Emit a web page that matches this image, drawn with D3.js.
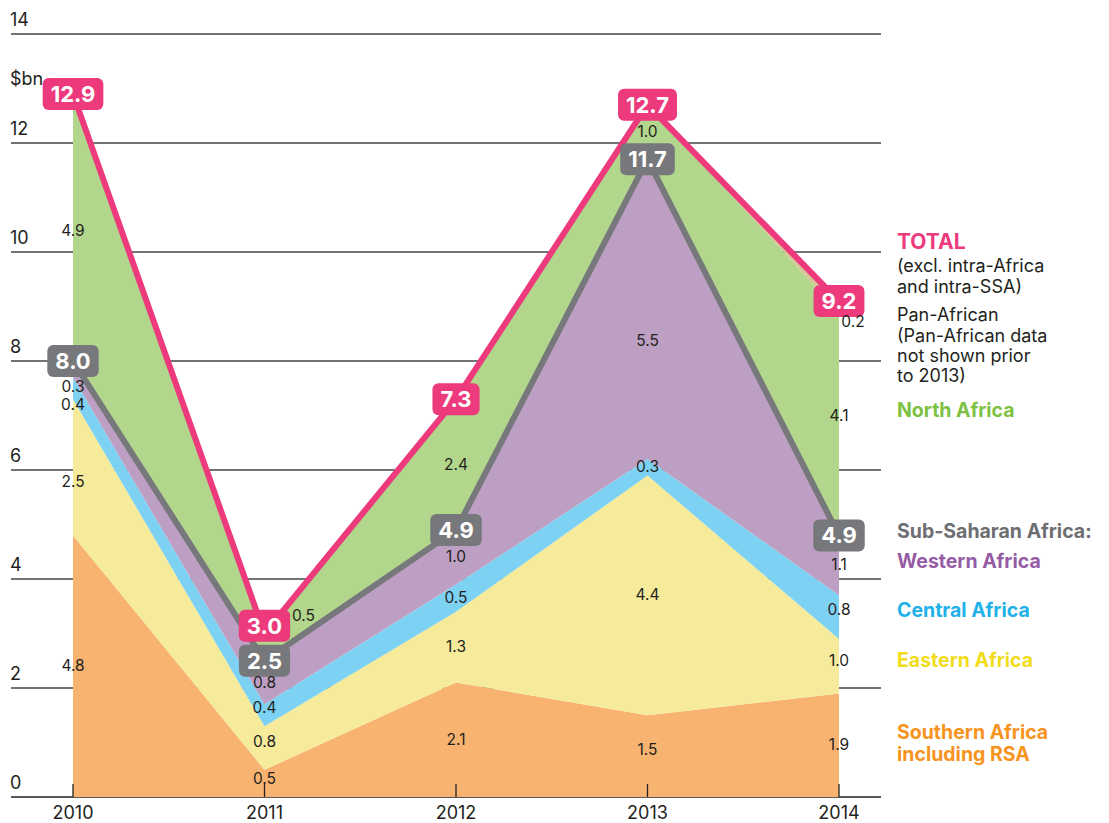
<!DOCTYPE html>
<html>
<head>
<meta charset="utf-8">
<script src="https://cdn.jsdelivr.net/npm/d3@7/dist/d3.min.js"></script>
<style>
  html, body { margin: 0; padding: 0; background: #fff; }
  svg { display: block; font-family: Inter, "Noto Sans", sans-serif; }
</style>
</head>
<body>
<svg id="chart" width="1109" height="823"></svg>
<script>
// ---- data ----
const years = [2010, 2011, 2012, 2013, 2014];
const southern = [4.8, 0.5, 2.1, 1.5, 1.9];
const eastern = [2.5, 0.8, 1.3, 4.4, 1.0];
const central = [0.4, 0.4, 0.5, 0.3, 0.8];
const western = [0.3, 0.8, 1.0, 5.5, 1.1];
const northAfrica = [4.9, 0.5, 2.4, 1.0, 4.1];
const panAfrican = [0, 0, 0, 0, 0.2];
const ssaTotals = [8.0, 2.5, 4.9, 11.7, 4.9];
const totals = [12.9, 3.0, 7.3, 12.7, 9.2];
const yTicks = [0, 2, 4, 6, 8, 10, 12, 14];
const seriesKeys = ["southern", "eastern", "central", "western", "north", "pan"];
const seriesValues = [southern, eastern, central, western, northAfrica, panAfrican];

// ---- styles ----
const areaColors = {
  southern: "#f8b370", eastern: "#f5eb9a", central: "#7dd1f3",
  western: "#bd9fc3", north: "#b2d68c", pan: "#d8c596"
};
const pink = "#ec3a7d", gray = "#77787b";

const svg = d3.select("#chart");
const x = d3.scalePoint().domain(years).range([73, 839]);
const y = d3.scaleLinear().domain([0, 14]).range([797, 34]);

const table = years.map((yr, i) => {
  const row = { year: yr };
  seriesKeys.forEach((k, j) => row[k] = seriesValues[j][i]);
  return row;
});
const stacked = d3.stack().keys(seriesKeys)(table);

// gridlines
svg.append("g").selectAll("line").data(yTicks).join("line")
  .attr("x1", 11).attr("x2", 881)
  .attr("y1", d => y(d)).attr("y2", d => y(d))
  .attr("stroke", d => d === 0 ? "#222" : "#444")
  .attr("stroke-width", d => d === 0 ? 1.6 : 1.3);

svg.append("g").selectAll("text").data(yTicks).join("text")
  .attr("x", 10).attr("y", d => y(d) - 8)
  .attr("font-size", 18).attr("fill", "#231f20")
  .text(d => d);
svg.append("text").attr("x", 10).attr("y", 85).attr("font-size", 18)
  .attr("fill", "#231f20").text("$bn");

// areas
const area = d3.area().x(d => x(d.data.year)).y0(d => y(d[0])).y1(d => y(d[1]));
svg.append("g").selectAll("path").data(stacked).join("path")
  .attr("d", area).attr("fill", d => areaColors[d.key]);

// year ticks & labels
svg.append("g").selectAll("line").data(years).join("line")
  .attr("x1", d => x(d)).attr("x2", d => x(d))
  .attr("y1", 797).attr("y2", 784)
  .attr("stroke", "#222").attr("stroke-width", 1.3);
svg.append("g").selectAll("text").data(years).join("text")
  .attr("x", d => x(d)).attr("y", 819).attr("text-anchor", "middle")
  .attr("font-size", 18).attr("fill", "#231f20").text(d => d);

// lines (stack tops)
const ssaLayer = stacked[3];
const totLayer = stacked[5];
const line = d3.line().x(d => x(d.data.year)).y(d => y(d[1]));
svg.append("path").datum(ssaLayer).attr("d", line)
  .attr("fill", "none").attr("stroke", gray).attr("stroke-width", 6)
  .attr("stroke-linejoin", "miter");
svg.append("path").datum(totLayer).attr("d", line)
  .attr("fill", "none").attr("stroke", pink).attr("stroke-width", 6)
  .attr("stroke-linejoin", "miter");

// value labels
const nudges = {
  "north|2010": [0, 4], "western|2010": [0, 18], "central|2010": [0, 17], "eastern|2010": [0, 15],
  "north|2011": [39, -31], "eastern|2011": [0, -6], "central|2011": [0, -7], "southern|2011": [0, -4],
  "western|2013": [0, 32], "southern|2013": [0, -6],
  "pan|2014": [14, 15], "north|2014": [0, -8], "central|2014": [0, -7], "eastern|2014": [0, -5]
};
const labelData = [];
stacked.forEach(layer => {
  layer.forEach(d => {
    const v = d[1] - d[0];
    if (v <= 0) return;
    const key = layer.key + "|" + d.data.year;
    const n = nudges[key] || [0, 0];
    labelData.push({ v, x: x(d.data.year) + n[0], y: y((d[0] + d[1]) / 2) + n[1] });
  });
});

// badges
function badge(g, cx, cy, txt, color) {
  const grp = g.append("g");
  const r = grp.append("rect").attr("fill", color).attr("rx", 6);
  const t = grp.append("text").attr("x", cx).attr("y", cy + 8)
    .attr("text-anchor", "middle").attr("font-size", 22).attr("font-weight", 700)
    .attr("fill", "#fff").text(txt);
  const w = t.node().getComputedTextLength() + 16;
  r.attr("x", cx - w / 2).attr("y", cy - 16).attr("width", w).attr("height", 32);
}
const bg = svg.append("g");
years.forEach((yr, i) => {
  const sy = y(ssaLayer[i][1]);
  let ty = y(totLayer[i][1]);
  if (sy - ty < 35) ty = sy - 35;
  badge(bg, x(yr), sy, ssaTotals[i].toFixed(1), gray);
  badge(bg, x(yr), ty, totals[i].toFixed(1), pink);
});

svg.append("g").selectAll("text").data(labelData).join("text")
  .attr("x", d => d.x).attr("y", d => d.y + 5)
  .attr("text-anchor", "middle").attr("font-size", 15.5).attr("fill", "#231f20")
  .text(d => d.v.toFixed(1));

// legend
const legend = [
  { t: "TOTAL", y: 249, c: pink, b: true, s: 21 },
  { t: "(excl. intra-Africa", y: 272, c: "#231f20", b: false },
  { t: "and intra-SSA)", y: 293, c: "#231f20", b: false },
  { t: "Pan-African", y: 321, c: "#231f20", b: false },
  { t: "(Pan-African data", y: 342, c: "#231f20", b: false },
  { t: "not shown prior", y: 362, c: "#231f20", b: false },
  { t: "to 2013)", y: 382, c: "#231f20", b: false },
  { t: "North Africa", y: 417, c: "#7dc143", b: true },
  { t: "Sub-Saharan Africa:", y: 538, c: "#6d6e71", b: true },
  { t: "Western Africa", y: 568, c: "#955ba5", b: true },
  { t: "Central Africa", y: 617, c: "#20b1e8", b: true },
  { t: "Eastern Africa", y: 667, c: "#f2dc1a", b: true },
  { t: "Southern Africa", y: 739, c: "#f7941e", b: true },
  { t: "including RSA", y: 761, c: "#f7941e", b: true }
];
svg.append("g").selectAll("text").data(legend).join("text")
  .attr("x", 897).attr("y", d => d.y)
  .attr("font-size", d => d.s || (d.b ? 19.5 : 18))
  .attr("font-weight", d => d.b ? 700 : 400)
  .attr("fill", d => d.c).text(d => d.t);
</script>
</body>
</html>
